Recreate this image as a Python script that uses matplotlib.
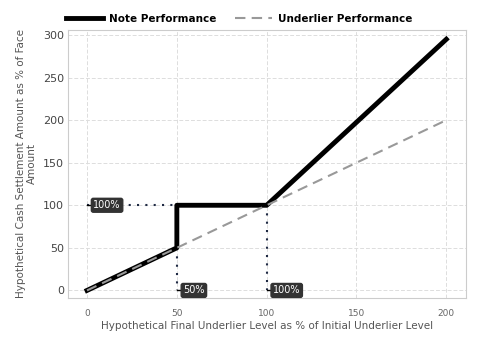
import matplotlib
matplotlib.use('Agg')
from matplotlib import pyplot as plt

# data
note_x = [0, 50, 50, 100, 200]
note_y = [0, 50, 100, 100, 295]
under_x = [0, 200]
under_y = [0, 200]
xticks = [0, 50, 100, 150, 200]
yticks = [0, 50, 100, 150, 200, 250, 300]

fig = plt.figure(figsize=(4.8, 3.6), dpi=100)
ax = fig.add_axes([0.142, 0.172, 0.829, 0.745])

ax.grid(True, color='#dddddd', linestyle=(0, (4, 2)), linewidth=0.7, zorder=0)
for s in ax.spines.values():
    s.set_color('#cccccc')

# reference guides
ax.plot([0, 50], [100, 100], color='#1f2a44', linestyle=(0, (1, 3)), linewidth=1.5, zorder=2)
ax.plot([50, 50], [50, 0], color='#1f2a44', linestyle=(0, (1, 3)), linewidth=1.5, zorder=2)
ax.plot([100, 100], [100, 0], color='#1f2a44', linestyle=(0, (1, 3)), linewidth=1.5, zorder=2)

ax.plot(note_x, note_y, color='black', linewidth=3.5, label='Note Performance', zorder=3)
ax.plot(under_x, under_y, color='#999999', linestyle=(0, (5, 3)), linewidth=1.5,
        label='Underlier Performance', zorder=4)

box = dict(boxstyle='round,pad=0.2', fc='#333333', ec='#333333')
for (x, y, t) in [(0, 100, '100%'), (50, 0, '50%'), (100, 0, '100%')]:
    ax.plot([x, x + 3], [y, y], color='black', linewidth=1, zorder=5)
    ax.text(x + 3.5, y, t, color='white', fontsize=7, va='center', ha='left', bbox=box, zorder=6)

ax.set_xlim(-10.5, 211)
ax.set_ylim(-9, 306)
ax.set_xticks(xticks)
ax.set_yticks(yticks)
ax.tick_params(axis='x', labelsize=6.5, colors='#666666', length=0, pad=8)
ax.tick_params(axis='y', labelsize=8, colors='#666666', length=0, pad=3)
for lab in ax.get_yticklabels():
    lab.set_color('#444444')

ax.set_xlabel('Hypothetical Final Underlier Level as % of Initial Underlier Level',
              fontsize=7.5, color='#555555', labelpad=2)
ax.set_ylabel('Hypothetical Cash Settlement Amount as % of Face\nAmount',
              fontsize=7.5, color='#555555', labelpad=4)

ax.legend(loc='lower center', bbox_to_anchor=(0.43, 1.0), ncol=2, frameon=False,
          prop={'weight': 'bold', 'size': 7.5}, handlelength=3.5, handletextpad=0.6,
          columnspacing=1.8, borderaxespad=0.2)

plt.savefig('out.png', dpi=100)
